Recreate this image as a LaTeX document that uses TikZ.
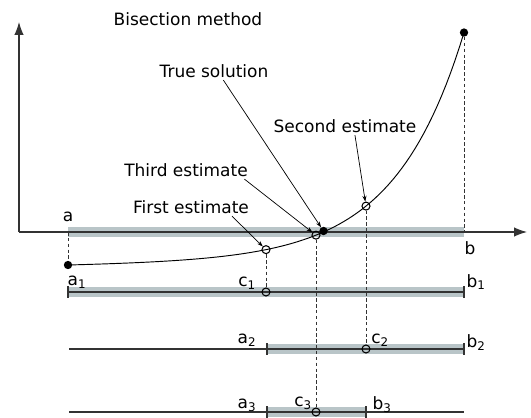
\documentclass[tikz,border=0pt]{standalone}
\usepackage{fontspec}
\setmainfont{DejaVu Sans}
\usepackage{xcolor}
\usepackage{tikz}
\usetikzlibrary{positioning, arrows.meta}

\definecolor{bargray}{HTML}{B9C5C8}
\definecolor{inkgray}{HTML}{333333}

\begin{document}
\begin{tikzpicture}[
    x=0.03cm, y=-0.03cm,
    font=\fontsize{14.5}{17}\selectfont,
    declare function={fcurve(\x)=265-(0.01634*(\x-68)+0.7286*(exp(0.0145*(\x-68))-1));},
    label/.style={inner sep=2pt},
    axis/.style={draw=inkgray, line width=1pt, -{Latex[length=11pt, width=8pt]}},
    bar/.style={draw=bargray, line width=0.32cm},
    rowline/.style={draw=inkgray, line width=0.9pt},
    tick/.style={draw=inkgray, line width=0.9pt},
    curve/.style={draw=black, line width=0.8pt},
    guide/.style={draw=inkgray, densely dashed, line width=0.6pt},
    hollow/.style={circle, draw=black, line width=0.9pt, minimum size=0.24cm, inner sep=0pt},
    dot/.style={circle, fill=black, minimum size=0.25cm, inner sep=0pt},
    pointer/.style={->, >={Stealth[length=5pt, width=3.5pt]}, line width=0.6pt}
]
    \useasboundingbox (0,0) rectangle (531,417);

    % shaded intervals
    \draw[bar] (68,232) -- (464,232);
    \draw[bar] (68,292) -- (464,292);
    \draw[bar] (267,349) -- (464,349);
    \draw[bar] (267,412) -- (366,412);

    % axes
    \coordinate (O) at (19,232);
    \coordinate (ytip) at (19,22);
    \coordinate (xtip) at (527,232);
    \draw[axis] (O) -- (ytip);
    \draw[axis] (O) -- (xtip);

    % function
    \draw[curve] plot[domain=68:464, samples=90] (\x,{fcurve(\x)});

    % points on the curve
    \coordinate (pa) at (68,232);
    \coordinate (pb) at (464,232);
    \node[dot] (fa) at (68,{fcurve(68)}) {};
    \node[dot] (fb) at (464,{fcurve(464)}) {};
    \node[hollow] (e1) at (266,{fcurve(266)}) {};
    \node[hollow] (e2) at (366,{fcurve(366)}) {};
    \node[hollow] (e3) at (316,{fcurve(316)}) {};
    \node[dot] (root) at (323.5,231) {};

    % iteration rows
    \coordinate (a1) at (68,292);
    \coordinate (b1) at (464,292);
    \coordinate (r2) at (69,349);
    \coordinate (a2) at (267,349);
    \coordinate (b2) at (464,349);
    \coordinate (r3) at (69,412);
    \coordinate (a3) at (267,412);
    \coordinate (b3) at (366,412);
    \coordinate (e3r) at (464,412);
    \draw[rowline] (a1) -- (b1);
    \draw[rowline] (r2) -- (b2);
    \draw[rowline] (r3) -- (e3r);
    \foreach \p in {a1,b1,a2,b2,a3,b3}
        \draw[tick] (\p) ++(0,-6) -- ++(0,12);
    \node[hollow] (c1) at (266,292) {};
    \node[hollow] (c2) at (366,349) {};
    \node[hollow] (c3) at (316,412) {};

    % guides
    \draw[guide] (pa) -- (fa);
    \draw[guide] (fb) -- (pb);
    \draw[guide] (e1) -- (c1);
    \draw[guide] (e2) -- (c2);
    \draw[guide] (e3) -- (c3);

    % labels
    \node[label] (title)   at (188,19)  {Bisection method};
    \node[label] (ltrue)   at (214,71)  {True solution};
    \node[label] (lsecond) at (345,126) {Second estimate};
    \node[label] (lthird)  at (186,170) {Third estimate};
    \node[label] (lfirst)  at (191,207) {First estimate};
    \node[label] (la)  at (68,217)  {a};
    \node[label] (lb)  at (470,248) {b};
    \node[label] (la1) at (77,282)  {a\textsubscript{1}};
    \node[label] (lc1) at (247,283) {c\textsubscript{1}};
    \node[label] (lb1) at (476,282) {b\textsubscript{1}};
    \node[label] (la2) at (247,340) {a\textsubscript{2}};
    \node[label] (lc2) at (380,340) {c\textsubscript{2}};
    \node[label] (lb2) at (476,343) {b\textsubscript{2}};
    \node[label] (la3) at (247,405) {a\textsubscript{3}};
    \node[label] (lc3) at (303,403) {c\textsubscript{3}};
    \node[label] (lb3) at (382,405) {b\textsubscript{3}};

    % pointers
    \draw[pointer] ([xshift=8pt]ltrue.south)    -- (root);
    \draw[pointer] ([xshift=8.5pt]lsecond.south) -- (e2);
    \draw[pointer] ([xshift=-5pt]lthird.south east) -- (e3);
    \draw[pointer] ([xshift=35pt]lfirst.south)  -- (e1);
\end{tikzpicture}
\end{document}
